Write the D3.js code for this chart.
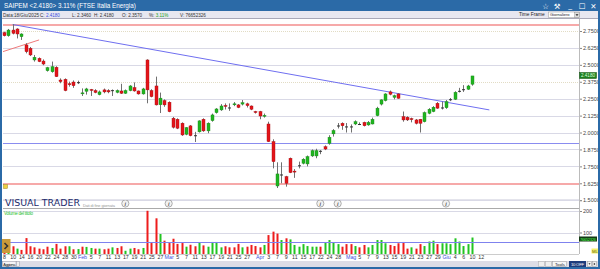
<!DOCTYPE html>
<html><head><meta charset="utf-8">
<script src="https://cdn.jsdelivr.net/npm/d3@7"></script>
<style>html,body{margin:0;padding:0;background:#fff;overflow:hidden}svg{display:block;font-family:"Liberation Sans",Arial,sans-serif}</style>
</head><body><svg id="c" width="600" height="269"></svg>
<script>
// ---- DATA ----
const opens  = [2.738,2.715,2.757,2.765,2.708,2.647,2.622,2.536,2.548,2.528,2.457,2.449,2.482,2.388,2.393,2.360,2.373,2.370,2.288,2.305,2.318,2.310,2.280,2.315,2.310,2.313,2.297,2.307,2.290,2.310,2.332,2.307,2.285,2.536,2.310,2.344,2.205,2.236,2.224,2.106,2.098,2.069,1.987,2.049,1.980,2.005,2.098,2.012,2.088,2.147,2.167,2.200,2.185,2.208,2.204,2.210,2.212,2.196,2.155,2.155,2.122,2.063,1.933,1.605,1.690,1.674,1.810,1.715,1.755,1.773,1.768,1.827,1.827,1.862,1.895,1.920,1.990,2.050,2.068,2.045,2.043,2.063,2.063,2.075,2.056,2.063,2.125,2.210,2.236,2.300,2.260,2.285,2.117,2.113,2.103,2.093,2.098,2.080,2.142,2.155,2.216,2.185,2.183,2.245,2.246,2.306,2.318,2.320,2.357];
const highs  = [2.745,2.765,2.800,2.770,2.733,2.660,2.632,2.573,2.555,2.540,2.485,2.524,2.490,2.400,2.400,2.376,2.385,2.383,2.326,2.330,2.322,2.320,2.310,2.325,2.320,2.318,2.318,2.360,2.318,2.350,2.370,2.310,2.330,2.541,2.320,2.413,2.295,2.245,2.230,2.115,2.105,2.075,2.040,2.055,2.005,2.090,2.105,2.075,2.140,2.180,2.210,2.215,2.215,2.225,2.210,2.240,2.220,2.200,2.160,2.160,2.140,2.080,1.950,1.780,1.780,1.680,1.815,1.730,1.785,1.810,1.830,1.875,1.880,1.870,1.905,1.980,2.025,2.070,2.075,2.070,2.060,2.090,2.075,2.080,2.085,2.110,2.190,2.245,2.290,2.310,2.280,2.290,2.155,2.120,2.110,2.100,2.100,2.155,2.180,2.195,2.225,2.228,2.240,2.255,2.305,2.330,2.350,2.352,2.418];
const lows   = [2.710,2.708,2.725,2.695,2.684,2.585,2.565,2.524,2.520,2.497,2.450,2.442,2.410,2.364,2.305,2.339,2.330,2.358,2.270,2.280,2.270,2.290,2.275,2.290,2.290,2.270,2.290,2.285,2.285,2.305,2.302,2.280,2.280,2.216,2.260,2.200,2.144,2.190,2.150,2.030,2.025,1.975,1.980,1.972,1.930,2.000,2.005,1.995,2.080,2.140,2.160,2.170,2.160,2.195,2.180,2.200,2.185,2.165,2.140,2.098,2.110,1.930,1.735,1.590,1.625,1.600,1.700,1.665,1.735,1.765,1.750,1.820,1.810,1.840,1.870,1.910,1.970,2.030,2.020,2.000,2.000,2.055,2.055,2.045,2.050,2.060,2.120,2.200,2.230,2.275,2.245,2.250,2.080,2.085,2.075,2.060,2.000,2.075,2.135,2.150,2.175,2.170,2.175,2.232,2.240,2.296,2.300,2.315,2.346];
const closes = [2.715,2.757,2.733,2.728,2.728,2.597,2.573,2.556,2.524,2.506,2.479,2.486,2.413,2.376,2.310,2.356,2.346,2.372,2.293,2.322,2.313,2.296,2.300,2.300,2.300,2.311,2.310,2.290,2.310,2.344,2.307,2.285,2.322,2.315,2.265,2.204,2.254,2.204,2.154,2.039,2.032,1.982,2.036,1.977,1.977,2.086,2.012,2.069,2.130,2.174,2.196,2.196,2.183,2.212,2.185,2.220,2.199,2.172,2.148,2.122,2.127,1.933,1.785,1.694,1.687,1.625,1.704,1.710,1.758,1.803,1.822,1.866,1.866,1.865,1.878,1.965,2.015,2.052,2.050,2.043,2.045,2.080,2.060,2.050,2.075,2.098,2.180,2.241,2.285,2.283,2.272,2.253,2.093,2.093,2.095,2.068,2.068,2.147,2.172,2.187,2.180,2.183,2.228,2.246,2.297,2.308,2.320,2.344,2.418];
// volume, millions of shares
const volumes = [34,28,36,25,19,74,36,31,25,22,34,28,47,25,36,36,22,23,34,33,28,25,25,22,25,31,28,36,15,25,28,22,28,201,51,166,93,62,51,71,47,51,34,43,36,53,40,34,56,56,31,36,31,31,47,31,34,42,37,31,42,88,104,95,65,73,68,42,34,46,37,34,34,34,53,65,53,46,34,46,46,37,31,42,31,42,65,65,50,42,37,50,56,25,31,25,46,37,58,62,46,50,50,46,73,58,37,46,76.65];
// 1 = up day (green volume bar), 0 = down day (red)
const volumeUp = [0,1,0,1,0,0,0,0,0,0,0,1,0,0,0,1,0,1,0,1,1,0,1,0,0,1,0,0,1,1,0,0,1,0,0,0,1,0,0,0,0,0,1,0,0,1,0,1,1,1,1,0,0,0,0,1,0,0,0,0,1,0,0,0,1,0,1,1,1,1,1,1,1,0,1,1,1,1,0,0,0,1,0,0,1,1,1,1,1,0,0,0,0,0,1,0,0,1,1,1,0,1,1,1,1,1,1,1,1];
const dateTickSlots  = [0,2,4,6,8,10,12,14,16,18,20,22,24,26,28,30,32,34,36,38,40,42,44,46,48,50,52,54,56,59,61,63,65,67,69,71,73,75,77,80,82,84,86,88,90,92,94,96,98,100,102,104,106,108,110];
const dateTickLabels = ["8","10","14","16","20","22","24","28","30","Feb","5","7","11","13","17","19","21","25","27","Mar","5","7","11","13","17","19","21","25","27","Apr","3","7","9","11","15","17","22","24","28","Mag","5","7","9","13","15","19","21","23","27","29","Giu","4","6","10","12"];
const monthLabels = ["Feb","Mar","Apr","Mag","Giu"];
const priceTicks  = [2.75,2.625,2.5,2.375,2.25,2.125,2.0,1.875,1.75,1.625,1.5];
const dottedLevels = [2.75,2.375];
const volumeTicks = [100,200];
const pinkLevels = [2.795,1.62];
const blueLevel = 1.921;
const volumeAvg = 58;
const trendBlue = [[2,2.798],[112,2.167]];
const trendRed  = [[-0.5,2.595],[8.1,2.684]];
const infoIcons = [28,38,73,77,102];
const lastPrice = 2.418;

// ---- DRAW ----
const svg = d3.select('#c');
const blue = '#2b6aa7';
const x  = d3.scaleLinear().domain([0,108]).range([4,472]);
const y  = d3.scaleLinear().domain([1.5,2.75]).range([200.2,31]);
const yv = d3.scaleLinear().domain([0,200]).range([254,211]);
const L = 3, R = 579;

svg.append('rect').attr('width',600).attr('height',269).attr('fill','#fff');
svg.append('clipPath').attr('id','pc').append('rect').attr('x',L).attr('y',19).attr('width',R-L).attr('height',189);

// price grid
const g = svg.append('g');
g.selectAll('line.grid').data(priceTicks.filter(t=>!dottedLevels.includes(t))).join('line')
  .attr('x1',L).attr('x2',R).attr('y1',d=>Math.round(y(d))+0.5).attr('y2',d=>Math.round(y(d))+0.5)
  .attr('stroke','#d9d9e6').attr('stroke-width',1);
g.selectAll('line.dot').data(dottedLevels).join('line')
  .attr('x1',L).attr('x2',R).attr('y1',d=>Math.round(y(d))+0.5).attr('y2',d=>Math.round(y(d))+0.5)
  .attr('stroke','#e2dcc4').attr('stroke-dasharray','1,1');

// price axis
const ax = svg.append('g').attr('transform',`translate(${R},0)`)
  .call(d3.axisRight(y).tickValues(priceTicks).tickFormat(d3.format('.4f')).tickSize(3).tickPadding(1));
ax.select('.domain').attr('stroke','#bbb');
ax.selectAll('line').attr('stroke','#888');
ax.selectAll('text').attr('font-size',5.5).attr('fill','#444').attr('font-family','Liberation Sans, Arial');

// levels
g.selectAll('line.pink').data(pinkLevels).join('line')
  .attr('x1',L).attr('x2',R).attr('y1',d=>y(d)).attr('y2',d=>y(d))
  .attr('stroke','#f6a9a9').attr('stroke-width',2);
g.append('line').attr('x1',L).attr('x2',R).attr('y1',Math.round(y(blueLevel))+0.5).attr('y2',Math.round(y(blueLevel))+0.5)
  .attr('stroke','#8a8cf0').attr('stroke-width',1);

// trend lines
const tl = d3.line().x(d=>x(d[0])).y(d=>y(d[1]));
g.append('path').attr('d',tl(trendBlue)).attr('stroke','#6f6ff0').attr('fill','none').attr('stroke-width',1).attr('clip-path','url(#pc)');
g.append('path').attr('d',tl(trendRed)).attr('stroke','#f07a7a').attr('fill','none').attr('stroke-width',1).attr('clip-path','url(#pc)');

// candles
const idx = d3.range(opens.length);
const cg = svg.append('g');
cg.selectAll('line.w').data(idx).join('line')
  .attr('x1',i=>Math.round(x(i))+0.5).attr('x2',i=>Math.round(x(i))+0.5)
  .attr('y1',i=>y(highs[i])).attr('y2',i=>y(lows[i]))
  .attr('stroke','#707070').attr('stroke-width',1);
cg.selectAll('rect.b').data(idx).join('rect')
  .attr('x',i=>Math.round(x(i))-1).attr('width',3)
  .attr('y',i=>y(Math.max(opens[i],closes[i])))
  .attr('height',i=>Math.max(1,Math.abs(y(opens[i])-y(closes[i]))))
  .attr('fill',i=>Math.abs(closes[i]-opens[i])<0.004?'#333':(closes[i]>opens[i]?'#20b420':'#e3141a'))
  .attr('stroke',i=>Math.abs(closes[i]-opens[i])<0.004?'none':(closes[i]>opens[i]?'#178a17':'#a80c10'))
  .attr('stroke-width',0.4);

// info icons
const ig = svg.append('g');
infoIcons.forEach(s=>{
  const cx = x(s);
  ig.append('circle').attr('cx',cx).attr('cy',203.5).attr('r',3.6).attr('fill','#f2f2f2').attr('stroke','#9a9a9a').attr('stroke-width',0.8);
  ig.append('text').attr('x',cx).attr('y',205.6).attr('text-anchor','middle').attr('font-size',5.5).attr('font-style','italic').attr('font-weight','bold').attr('fill','#555').text('i');
});
svg.append('line').attr('x1',L).attr('x2',R).attr('y1',199.5).attr('y2',199.5).attr('stroke','#e4e4ec');

// logo
svg.append('text').attr('x',5).attr('y',206).attr('font-size',9.5).attr('fill','#1d2b6b').attr('font-family','DejaVu Sans, sans-serif').attr('textLength',75).attr('lengthAdjust','spacingAndGlyphs').text('VISUAL TRADER');
svg.append('text').attr('x',83).attr('y',207).attr('font-size',4).attr('fill','#999').attr('textLength',32).text('Dati di fine giornata');

// small icon bottom-left
svg.append('rect').attr('x',3.5).attr('y',184.5).attr('width',4).attr('height',4).attr('fill','#f0d040').attr('stroke','#9a8a30').attr('stroke-width',0.5);

// panel separator
svg.append('line').attr('x1',L).attr('x2',R).attr('y1',208.5).attr('y2',208.5).attr('stroke','#aaa');

// volume panel
svg.selectAll('line.vg').data(volumeTicks).join('line')
  .attr('x1',L).attr('x2',R).attr('y1',d=>Math.round(yv(d))+0.5).attr('y2',d=>Math.round(yv(d))+0.5)
  .attr('stroke','#d9d9e6');
const vax = svg.append('g').attr('transform',`translate(${R},0)`)
  .call(d3.axisRight(yv).tickValues(volumeTicks).tickSize(3).tickPadding(1));
vax.select('.domain').remove();
vax.selectAll('line').attr('stroke','#888');
vax.selectAll('text').attr('font-size',5.5).attr('fill','#444').attr('font-family','Liberation Sans, Arial');
svg.append('line').attr('x1',R+0.5).attr('x2',R+0.5).attr('y1',19).attr('y2',254).attr('stroke','#bbb');

svg.append('g').selectAll('rect').data(idx).join('rect')
  .attr('x',i=>Math.round(x(i))-0.5).attr('width',2)
  .attr('y',i=>yv(volumes[i])).attr('height',i=>yv(0)-yv(volumes[i]))
  .attr('fill',i=>volumeUp[i]?'#22c422':'#ee1c1c');
svg.append('line').attr('x1',L).attr('x2',R).attr('y1',Math.round(yv(volumeAvg))+0.5).attr('y2',Math.round(yv(volumeAvg))+0.5)
  .attr('stroke','#7f82ee');
svg.append('text').attr('x',4).attr('y',214.5).attr('font-size',4.6).attr('fill','#2cc22c').attr('textLength',29).text('Volume del titolo');

// orange button
svg.append('rect').attr('x',2).attr('y',239).attr('width',8.5).attr('height',14).attr('fill','#c99a3a');
svg.append('path').attr('d','M4.5,243 L7.5,246 L4.5,249').attr('stroke','#333').attr('stroke-width',1.6).attr('fill','none');

// volume last box
svg.append('rect').attr('x',579).attr('y',236.5).attr('width',18).attr('height',5).attr('fill','#143a14');
svg.append('text').attr('x',580).attr('y',240.5).attr('font-size',4).attr('fill','#5f5').attr('textLength',16).text('76652326');
svg.append('rect').attr('x',591.5).attr('y',248.5).attr('width',7).attr('height',5).attr('fill','#f3f06a');
svg.append('text').attr('x',592).attr('y',252.6).attr('font-size',4.2).attr('fill','#6a6a10').text('ML');

// price box
svg.append('rect').attr('x',579.5).attr('y',72.5).attr('width',17).attr('height',6).attr('fill','#1f7f1f').attr('stroke','#0d4d0d').attr('stroke-width',0.5);
svg.append('text').attr('x',581).attr('y',77.3).attr('font-size',4.6).attr('fill','#dfffdf').attr('textLength',14).text(d3.format('.4f')(lastPrice));

// date axis
svg.append('line').attr('x1',L).attr('x2',R).attr('y1',254.5).attr('y2',254.5).attr('stroke','#ccc');
const dx = svg.append('g').attr('transform','translate(0,254)')
  .call(d3.axisBottom(x).tickValues(dateTickSlots).tickFormat((d,i)=>dateTickLabels[i]).tickSize(0).tickPadding(1.5));
dx.select('.domain').remove();
dx.selectAll('text').attr('font-size',5.3).attr('font-family','Liberation Sans, Arial')
  .attr('fill',(d,i)=>monthLabels.includes(dateTickLabels[i])?'#3a4fe0':'#333');

// bottom bar
svg.append('rect').attr('x',0).attr('y',261).attr('width',600).attr('height',8).attr('fill','#dddde6');
svg.append('rect').attr('x',2.5).attr('y',261.5).attr('width',13.5).attr('height',5).attr('fill','#f4f4f6').attr('stroke','#9a9aa8').attr('stroke-width',0.5);
svg.append('text').attr('x',3.3).attr('y',265.6).attr('font-size',3.8).attr('fill','#222').attr('textLength',12).text('Aggiorna');
svg.append('rect').attr('x',16.5).attr('y',261.5).attr('width',3).attr('height',5).attr('fill','#eee').attr('stroke','#9a9aa8').attr('stroke-width',0.5);
svg.append('rect').attr('x',538.5).attr('y',261.5).attr('width',6).attr('height',5).attr('fill','#eee').attr('stroke','#aaa').attr('stroke-width',0.5);
svg.append('rect').attr('x',545.5).attr('y',261.5).attr('width',6).attr('height',5).attr('fill','#eee').attr('stroke','#aaa').attr('stroke-width',0.5);
svg.append('rect').attr('x',552.5).attr('y',261.5).attr('width',14).attr('height',5).attr('fill','#f6f6f6').attr('stroke','#999').attr('stroke-width',0.5);
svg.append('text').attr('x',555).attr('y',265.6).attr('font-size',4.2).attr('fill','#222').text('Tools');
svg.append('rect').attr('x',569).attr('y',261).attr('width',17).attr('height',6).attr('fill','#1d3c7c');
svg.append('text').attr('x',571).attr('y',265.7).attr('font-size',4.2).attr('fill','#fff').attr('textLength',13).text('10 OFF');
svg.append('rect').attr('x',587.5).attr('y',261.5).attr('width',4).attr('height',5).attr('fill','#f0f0f0').attr('stroke','#999').attr('stroke-width',0.5);
svg.append('rect').attr('x',592.5).attr('y',261.5).attr('width',4).attr('height',5).attr('fill','#f0f0f0').attr('stroke','#999').attr('stroke-width',0.5);
svg.append('path').attr('d','M588.5,263.3 L590.5,263.3 L589.5,264.8Z M593.8,262.8 L595.4,264 L593.8,265.2Z').attr('fill','#222');

// title bar
svg.append('rect').attr('x',0).attr('y',0).attr('width',600).attr('height',11).attr('fill',blue);
svg.append('text').attr('x',4).attr('y',8.4).attr('font-size',6.3).attr('fill','#fff').text('SAIPEM <2.4180> 3.11% (FTSE Italia Energia)');
const icons = [['☆',545.5],['⚒',557],['_',570],['☐',582],['✕',593.5]];
icons.forEach(([t,xx])=>svg.append('text').attr('x',xx).attr('y',t==='_'?7.5:8.6).attr('text-anchor','middle').attr('font-size',7.5).attr('fill','#fff').attr('font-family','DejaVu Sans').text(t));

// info bar
svg.append('rect').attr('x',0).attr('y',11).attr('width',600).attr('height',7.5).attr('fill','#e7e7f0');
svg.append('line').attr('x1',0).attr('x2',600).attr('y1',18.5).attr('y2',18.5).attr('stroke','#a8a8b8');
const infoText = svg.append('text').attr('x',3).attr('y',16.6).attr('font-size',4.6).attr('fill','#333');
infoText.append('tspan').text('Data:18/Giu/2025');
infoText.append('tspan').attr('x',40).text('C: ');
infoText.append('tspan').attr('fill','#3a4fe0').text('2.4180');
infoText.append('tspan').attr('x',72).text('L: 2.3460');
infoText.append('tspan').attr('x',94).text('H: 2.4180');
infoText.append('tspan').attr('x',122).text('O: 2.3570');
infoText.append('tspan').attr('x',149).text('%: ');
infoText.append('tspan').attr('fill','#22a022').text('3.11%');
infoText.append('tspan').attr('x',180).text('V: 76652326');
svg.append('text').attr('x',519).attr('y',16.4).attr('font-size',4.8).attr('fill','#222').text('Time Frame');
svg.append('rect').attr('x',548.5).attr('y',12).attr('width',31).attr('height',5.6).attr('fill','#fff').attr('stroke','#999').attr('stroke-width',0.5);
svg.append('text').attr('x',550).attr('y',16.2).attr('font-size',4).attr('fill','#222').text('Giornaliero');
svg.append('rect').attr('x',574.5).attr('y',12.5).attr('width',5).attr('height',4.8).attr('fill','#ddd').attr('stroke','#888').attr('stroke-width',0.4);
svg.append('path').attr('d','M575.5,14.2 L578.5,14.2 L577,16Z').attr('fill','#222');

// window frame
svg.append('rect').attr('x',0).attr('y',0).attr('width',2).attr('height',269).attr('fill',blue);
svg.append('rect').attr('x',598).attr('y',0).attr('width',2).attr('height',269).attr('fill',blue);
svg.append('rect').attr('x',0).attr('y',267).attr('width',600).attr('height',2).attr('fill',blue);
</script></body></html>
